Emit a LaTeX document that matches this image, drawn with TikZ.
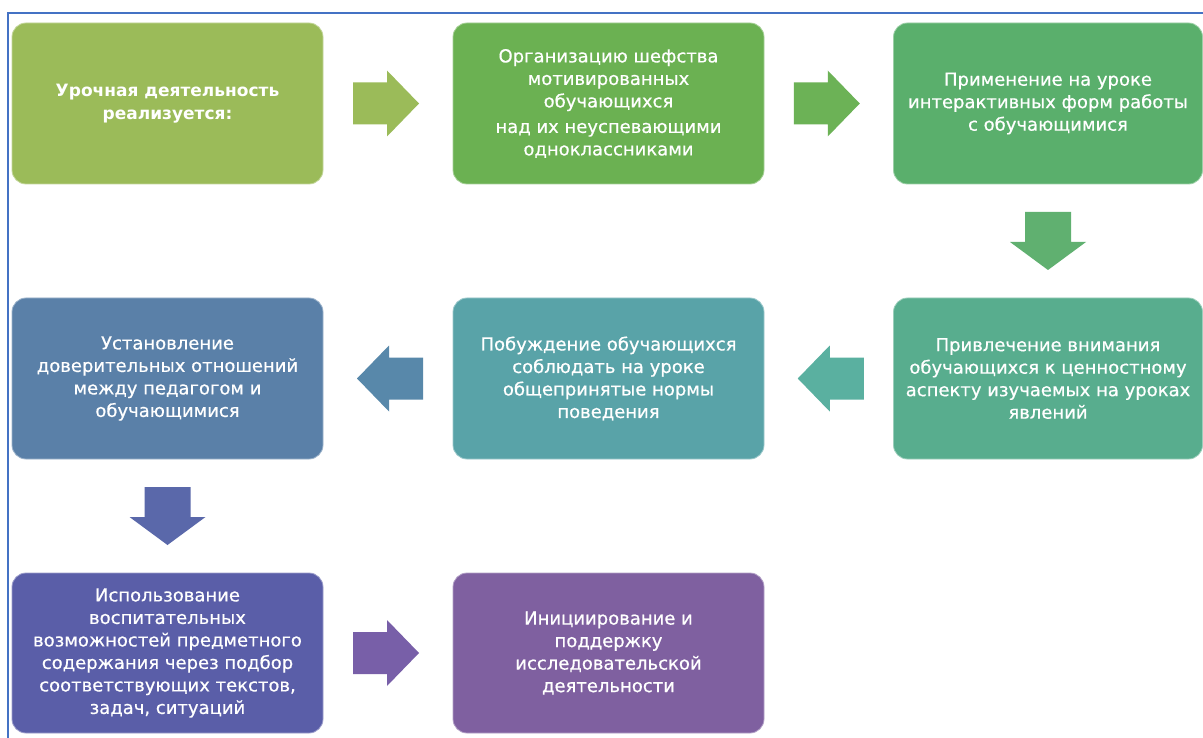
\documentclass[tikz,border=0pt]{standalone}
\usepackage{fontspec}
\setmainfont{DejaVu Sans}
\newfontfamily\boxfont[FakeBold=0.6]{DejaVu Sans}
\usetikzlibrary{calc}
\definecolor{frameblue}{RGB}{68,114,196}
\definecolor{cbA}{RGB}{155,187,89}
\definecolor{cbB}{RGB}{107,177,82}
\definecolor{cbC}{RGB}{90,175,108}
\definecolor{cbD}{RGB}{88,173,142}
\definecolor{cbE}{RGB}{89,163,168}
\definecolor{cbF}{RGB}{90,128,168}
\definecolor{cbG}{RGB}{90,94,168}
\definecolor{cbH}{RGB}{127,96,160}
\definecolor{caA}{RGB}{155,187,89}
\definecolor{caB}{RGB}{108,178,86}
\definecolor{caC}{RGB}{96,176,112}
\definecolor{caD}{RGB}{90,176,160}
\definecolor{caE}{RGB}{88,136,170}
\definecolor{caF}{RGB}{90,104,170}
\definecolor{caG}{RGB}{120,95,168}
\tikzset{
  box/.style={rounded corners=14pt, minimum width=311pt, minimum height=161pt,
    text=white, align=center, inner sep=0pt,
    font=\boxfont\fontsize{18}{22.5}\selectfont},
  rarrow/.pic={\fill (-33,-21) -- (1,-21) -- (1,-33) -- (33,0) -- (1,33) -- (1,21) -- (-33,21) -- cycle;},
  larrow/.pic={\fill (33,-21) -- (-1,-21) -- (-1,-33) -- (-33,0) -- (-1,33) -- (-1,21) -- (33,21) -- cycle;},
  darrow/.pic={\fill (-23,-29) -- (23,-29) -- (23,1) -- (38,1) -- (0,29) -- (-38,1) -- (-23,1) -- cycle;}
}
\begin{document}
\begin{tikzpicture}[x=1pt,y=-1pt]
\useasboundingbox (0,0) rectangle (1203,738);
\fill[white] (0,0) rectangle (1203,738);
% frame lines
\coordinate (fc) at (8,13);
\coordinate (fr) at (1203,13);
\coordinate (fb) at (8,738);
\draw[frameblue, line width=2.2pt] (fr) -- (fc) -- (fb);
% boxes
\node[box, fill=cbA, draw=cbA!60!white, line width=0.8pt, font=\bfseries\fontsize{17}{23}\selectfont] (b1) at (167.5,103.5)
  {Урочная деятельность\\реализуется:};
\node[box, fill=cbB, draw=cbB!60!white, line width=0.8pt] (b2) at (608.5,103.5)
  {Организацию шефства\\мотивированных\\обучающихся\\[3pt]над их неуспевающими\\одноклассниками};
\node[box, fill=cbC, draw=cbC!60!white, line width=0.8pt, minimum width=309pt] (b3) at (1048,103.5)
  {Применение на уроке\\интерактивных форм работы\\с обучающимися};
\node[box, fill=cbD, draw=cbD!60!white, line width=0.8pt, minimum width=309pt] (b6) at (1048,378.5)
  {Привлечение внимания\\обучающихся к ценностному\\аспекту изучаемых на уроках\\явлений};
\node[box, fill=cbE, draw=cbE!60!white, line width=0.8pt] (b5) at (608.5,378.5)
  {Побуждение обучающихся\\соблюдать на уроке\\общепринятые нормы\\поведения};
\node[box, fill=cbF, draw=cbF!60!white, line width=0.8pt] (b4) at (167.5,378.5)
  {Установление\\доверительных отношений\\между педагогом и\\обучающимися};
\node[box, fill=cbG, draw=cbG!60!white, line width=0.8pt, minimum height=160pt] (b7) at (167.5,653)
  {Использование\\воспитательных\\возможностей предметного\\содержания через подбор\\соответствующих текстов,\\задач, ситуаций};
\node[box, fill=cbH, draw=cbH!60!white, line width=0.8pt, minimum height=160pt] (b8) at (608.5,653)
  {Инициирование и\\поддержку\\исследовательской\\деятельности};
% block arrows between boxes
\path ($(b1.east)!0.5!(b2.west)$) pic[fill=caA, xshift=-2pt]{rarrow};
\path ($(b2.east)!0.5!(b3.west)$) pic[fill=caB, xshift=-2pt]{rarrow};
\path ($(b3.south)!0.5!(b6.north)$) pic[fill=caC]{darrow};
\path ($(b6.west)!0.5!(b5.east)$) pic[fill=caD, xshift=2pt]{larrow};
\path ($(b5.west)!0.5!(b4.east)$) pic[fill=caE, xshift=2pt]{larrow};
\path ($(b4.south)!0.5!(b7.north)$) pic[fill=caF]{darrow};
\path ($(b7.east)!0.5!(b8.west)$) pic[fill=caG, xshift=-2pt]{rarrow};
\end{tikzpicture}
\end{document}
